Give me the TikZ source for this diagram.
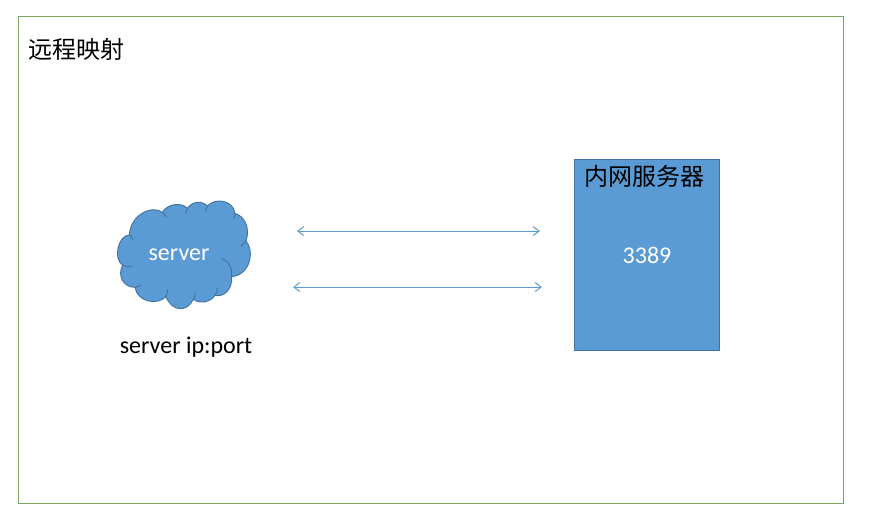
\documentclass[tikz,border=0pt]{standalone}
\usepackage{fontspec}
\setmainfont{Carlito}
\newfontfamily\cjkfont{Noto Sans CJK SC}
\definecolor{FrameGreen}{HTML}{7FA65F}
\definecolor{OfficeBlue}{HTML}{5B9BD5}
\definecolor{OfficeEdge}{HTML}{41719C}
\usetikzlibrary{arrows.meta,positioning}
\tikzset{
    frame/.style={
        rectangle,
        draw=FrameGreen,
        line width=0.7pt,
        minimum width=825pt,
        minimum height=487pt
    },
    cloud body/.style={
        draw=OfficeEdge,
        line width=0.9pt,
        fill=OfficeBlue
    },
    cloud fold/.style={
        draw=OfficeEdge,
        line width=0.9pt
    },
    cloud text/.style={
        text=white,
        font=\fontsize{24}{28}\selectfont,
        inner sep=0pt
    },
    intranet/.style={
        rectangle,
        draw=OfficeEdge,
        line width=0.8pt,
        fill=OfficeBlue,
        minimum width=145pt,
        minimum height=191pt
    },
    heading/.style={
        text=black,
        font=\cjkfont\fontsize{24}{28}\selectfont,
        inner sep=0pt
    },
    caption/.style={
        text=black,
        font=\fontsize{24}{28}\selectfont,
        inner sep=0pt
    },
    arrow/.style={
        {Straight Barb[length=6pt,width=9pt]}-{Straight Barb[length=6pt,width=9pt]},
        line width=1pt,
        color=OfficeBlue
    }
}
\begin{document}
\begin{tikzpicture}[x=1pt, y=-1pt]
    \useasboundingbox (0,0) rectangle (875,528);
    \node[frame] (border) at (430.5,259.5) {};
    \node[heading, anchor=north west] (title) at (28,38) {远程映射};

    % cloud outline, lobe by lobe
    \begin{scope}[shift={(100,180)}, x=0.3333pt, y=-0.3333pt]
        \draw[cloud body] (88,165)
            .. controls (92,100) and (160,75) .. (187,97)
            .. controls (200,72) and (245,65) .. (262,85)
            .. controls (278,62) and (308,62) .. (322,78)
            .. controls (345,52) and (400,60) .. (405,100)
            .. controls (438,110) and (450,150) .. (438,182)
            .. controls (465,215) and (450,285) .. (395,290)
            .. controls (398,330) and (370,352) .. (345,346)
            .. controls (330,368) and (300,372) .. (280,358)
            .. controls (262,398) and (215,395) .. (198,350)
            .. controls (170,378) and (112,365) .. (105,322)
            .. controls (68,322) and (52,285) .. (68,256)
            .. controls (38,235) and (55,165) .. (88,165) -- cycle;
        \draw[cloud fold] (88,165) .. controls (92,166) and (96,172) .. (98,180);
        \draw[cloud fold] (187,97) .. controls (191,100) and (196,105) .. (199,111);
        \draw[cloud fold] (262,85) .. controls (260,90) and (258,95) .. (257,102);
        \draw[cloud fold] (322,78) .. controls (320,83) and (318,88) .. (317,95);
        \draw[cloud fold] (405,100) .. controls (405,105) and (404,110) .. (402,116);
        \draw[cloud fold] (438,182) .. controls (435,188) and (430,193) .. (424,197);
        \draw[cloud fold] (365,236) .. controls (385,240) and (397,265) .. (395,290);
        \draw[cloud fold] (345,346) .. controls (350,340) and (352,332) .. (352,322);
        \draw[cloud fold] (280,358) .. controls (284,352) and (286,345) .. (286,338);
        \draw[cloud fold] (198,350) .. controls (201,342) and (203,335) .. (203,328);
        \draw[cloud fold] (105,322) .. controls (111,321) and (118,319) .. (124,315);
        \draw[cloud fold] (68,256) .. controls (76,259) and (85,260) .. (96,258);
    \end{scope}
    \node[cloud text] (cloud) at (179,255) {server};
    \node[caption] (address) at (186,347) {server ip:port};

    \node[intranet] (inner) at (647,255) {};
    \node[heading, anchor=north] (innername) at (644,165) {内网服务器};
    \node[caption, text=white] (port) at (647,255) {3389};

    \coordinate (upleft) at (297,231);
    \coordinate (upright) at (540,231);
    \coordinate (lowleft) at (293,287);
    \coordinate (lowright) at (542,287);

    \draw[arrow] (upleft) -- (upright);
    \draw[arrow] (lowleft) -- (lowright);
\end{tikzpicture}
\end{document}
